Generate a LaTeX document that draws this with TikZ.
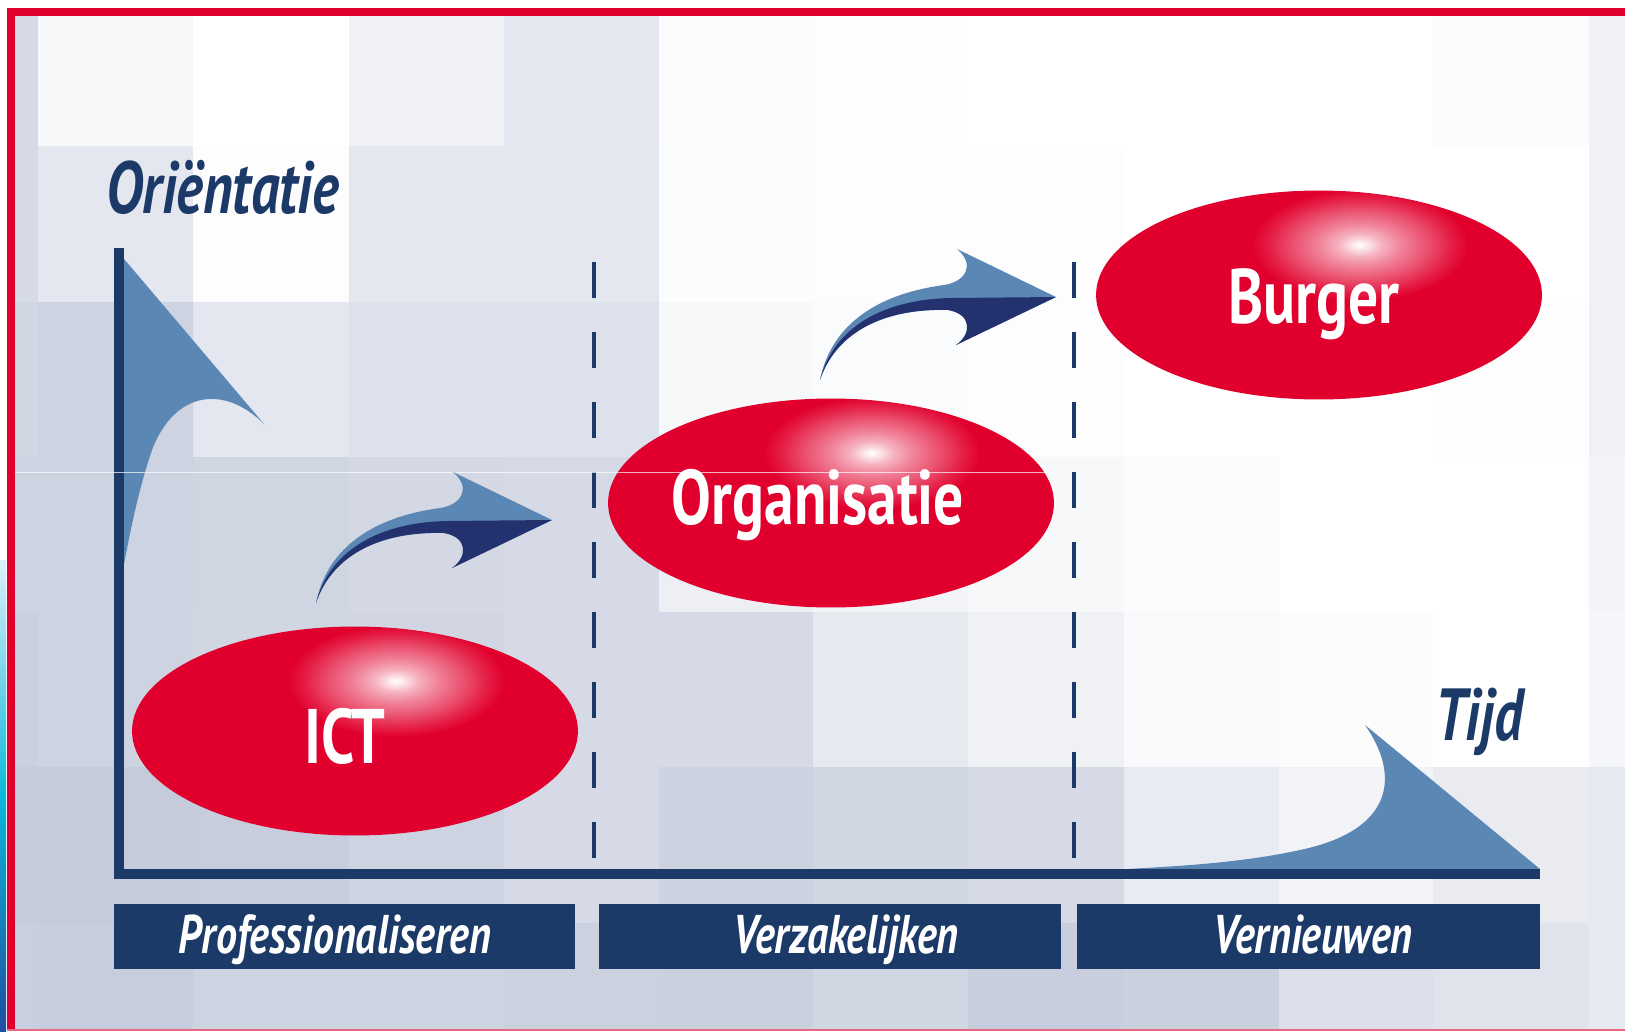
\documentclass[tikz,border=0pt]{standalone}
\usepackage{fontspec}
\setmainfont{PT Sans}[FakeStretch=0.77]
\usetikzlibrary{shapes.geometric, calc}

\definecolor{framered}{HTML}{E1002D}
\definecolor{navy}{HTML}{1C3A68}
\definecolor{finblue}{HTML}{5B87B5}
\definecolor{arrowdark}{HTML}{23326E}
\definecolor{tilebase}{HTML}{C4CADB}
\definecolor{edgecyan}{HTML}{DDF1FA}
\definecolor{edgeblue}{HTML}{1F4EA3}

\pgfdeclareradialshading{glow}{\pgfpoint{0bp}{0bp}}{%
  color(0bp)=(white); color(1.5bp)=(white!92!framered); color(5bp)=(white!70!framered);
  color(10bp)=(white!50!framered); color(16bp)=(white!30!framered); color(21bp)=(white!12!framered);
  color(25bp)=(framered); color(50bp)=(framered)}

% one row of background tiles: top, bottom, shade per column
\newcommand{\tilerow}[3]{%
  \foreach \p [count=\c] in {#3} {
    \pgfmathsetmacro{\xa}{{15,38,193,349,504,659,813,968,1124,1279,1433,1589}[\c-1]}
    \pgfmathsetmacro{\xb}{{38,193,349,504,659,813,968,1124,1279,1433,1589,1625}[\c-1]}
    \fill[tilebase!\p!white] (\xa,#1) rectangle (\xb,#2);
  }}

\tikzset{
  phase/.style={ellipse, fill=framered, minimum width=8.92cm, minimum height=4.18cm, inner sep=0pt},
  phaselabel/.style={text=white, font=\bfseries\fontsize{44}{44}\selectfont, anchor=base},
  axislabel/.style={text=navy, font=\bfseries\itshape\fontsize{42}{42}\selectfont},
  barlabel/.style={text=white, font=\bfseries\itshape\fontsize{31}{31}\selectfont, anchor=base},
  stagebar/.style={fill=navy, minimum height=1.3cm, inner sep=0pt},
  divider/.style={navy, line width=0.09cm, dash pattern=on 0.72cm off 0.68cm},
  bentarrow/.pic={
    \fill[finblue] (0,0) .. controls (10,-50) and (50,-85) .. (124,-95)
      .. controls (145,-98) and (156,-115) .. (137,-131) -- (236,-83) -- (136,-35)
      .. controls (152,-46) and (152,-66) .. (128,-70)
      .. controls (60,-72) and (15,-45) .. (0,0) -- cycle;
    \fill[arrowdark] (236,-83) -- (136,-35)
      .. controls (152,-46) and (152,-66) .. (128,-70)
      .. controls (60,-72) and (15,-45) .. (0,0)
      .. controls (12,-47) and (55,-80) .. (130,-82) -- cycle;
  }
}

\begin{document}
\begin{tikzpicture}[x=0.02cm, y=-0.02cm]
\useasboundingbox (0,0) rectangle (1625,1031);
\fill[white] (0,0) rectangle (1625,1031);

% background mosaic
\tilerow{16}{146}{70,14,0,27,45,5,3,0,0,0,6,27}
\tilerow{146}{302}{70,45,3,45,45,6,3,3,0,0,0,27}
\tilerow{302}{457}{78,83,45,57,57,14,8,3,0,0,3,27}
\tilerow{457}{612}{83,83,80,73,70,30,20,13,6,0,0,20}
\tilerow{612}{767}{88,83,78,77,70,70,42,27,11,5,0,18}
\tilerow{767}{923}{97,97,94,83,70,85,78,70,37,22,38,42}
\tilerow{923}{1031}{90,94,83,83,86,88,78,92,88,60,52,42}

% frame
\shade[top color=edgecyan, bottom color=edgeblue, middle color=edgeblue!40!cyan] (0,560) rectangle (6,1031);
\fill[framered] (7,8) rectangle (1625,16);
\fill[framered] (7,8) rectangle (15,1031);
\fill[framered!60!white] (7,1029) rectangle (1625,1031);

% axes
\coordinate (ytop) at (119,248);
\coordinate (origin) at (119,873.5);
\coordinate (xend) at (1540,873.5);
\fill[finblue] (119,253) -- (264,424) .. controls (225,385) and (175,390) .. (152,450)
  .. controls (135,500) and (127,550) .. (119,590) -- cycle;
\fill[finblue] (1127,869) .. controls (1180,866) and (1240,863) .. (1300,850)
  .. controls (1395,830) and (1400,775) .. (1365,725) -- (1540,869) -- cycle;
\draw[navy, line width=0.2cm] (ytop) -- (origin) -- (xend);

\node[axislabel, anchor=base west] (orientatie) at (100,213) {Oriëntatie};
\node[axislabel, anchor=base east] (tijd) at (1529,740) {Tijd};

% phase borders
\coordinate (d1top) at (594,262);
\coordinate (d1bot) at (594,858);
\coordinate (d2top) at (1074,262);
\coordinate (d2bot) at (1074,858);
\draw[divider] (d1top) -- (d1bot);
\draw[divider] (d2top) -- (d2bot);

% phases
\node[phase] (ict) at (355,731) {};
\node[phase] (org) at (831,503) {};
\node[phase] (burger) at (1319,295) {};
\foreach \n in {ict, org, burger} {
  \begin{scope}
    \clip (\n) ellipse (222 and 104);
    \shade[shading=glow] ($(\n)+(41,-50)$) ellipse (108 and 56);
  \end{scope}
}

\draw[white, opacity=0.7, line width=0.5pt] (15,472) -- (1047,472);

\node[phaselabel] (ictlabel) at (345,763) {ICT};
\node[phaselabel] (orglabel) at (818,524) {Organisatie};
\node[phaselabel] (burgerlabel) at (1314,323) {Burger};

\pic at (316,603) {bentarrow};
\pic at (820,380) {bentarrow};

% stages
\node[stagebar, minimum width=9.22cm, anchor=north west] (prof) at (114,904) {};
\node[stagebar, minimum width=9.24cm, anchor=north west] (verz) at (599,904) {};
\node[stagebar, minimum width=9.26cm, anchor=north west] (vern) at (1077,904) {};
\node[barlabel] (proflabel) at (335,953) {Professionaliseren};
\node[barlabel] (verzlabel) at (846,953) {Verzakelijken};
\node[barlabel] (vernlabel) at (1313,953) {Vernieuwen};
\end{tikzpicture}
\end{document}
